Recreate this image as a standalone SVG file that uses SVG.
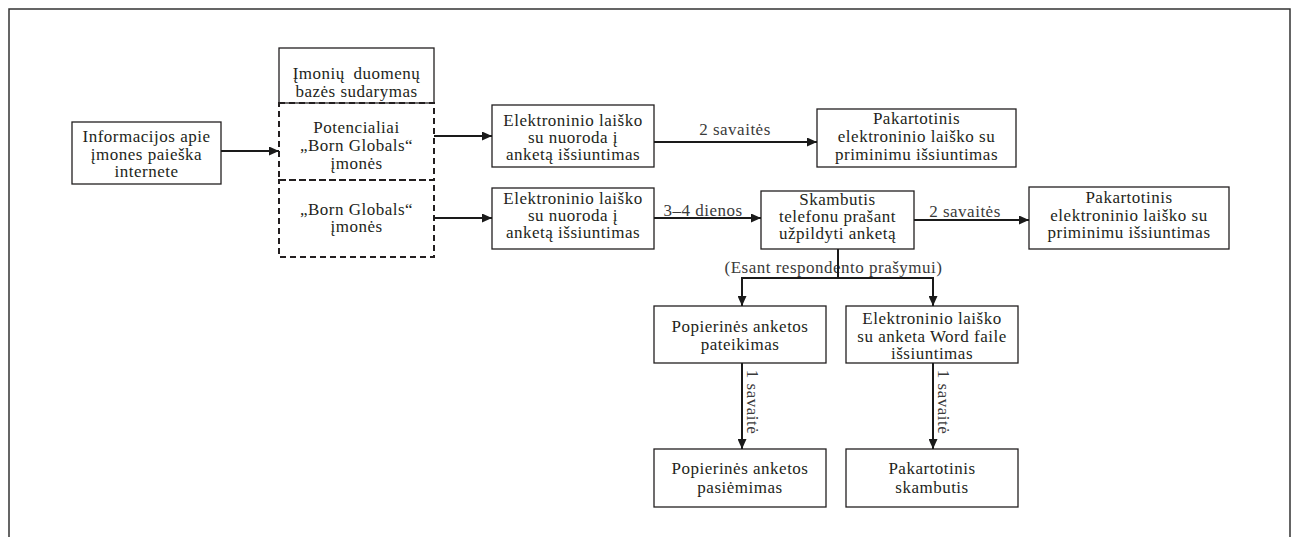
<svg xmlns="http://www.w3.org/2000/svg" width="1296" height="537" viewBox="0 0 1296 537">
<defs>
<marker id="ah" markerUnits="userSpaceOnUse" markerWidth="11" markerHeight="9" refX="10" refY="4.5" orient="auto">
<path d="M0,0 L10,4.5 L0,9 z" fill="#1a1a1a"/>
</marker>
<style>
.box{fill:#fff;stroke:#231f20;stroke-width:1.3}
.dash{fill:none;stroke:#231f20;stroke-width:2;stroke-dasharray:6,4}
.t{font-family:"Liberation Serif","Times New Roman",serif;font-size:17px;letter-spacing:0.5px;fill:#231f20;text-anchor:middle}
.lbl{font-family:"Liberation Serif","Times New Roman",serif;font-size:17px;letter-spacing:0.5px;fill:#3a3a3a;text-anchor:middle}
.c{fill:none;stroke:#1a1a1a;stroke-width:2}
.frame{fill:none;stroke:#333;stroke-width:1.5}
</style>
</defs>
<rect width="1296" height="537" fill="#fff"/>
<path class="frame" d="M9,537 L9,9 L1290,9 L1290,537"/>

<g id="n-info">
<rect class="box" x="72" y="122" width="149" height="62"/>
<text class="t" x="146.5" y="142">Informacijos apie</text>
<text class="t" x="146.5" y="160">įmones paieška</text>
<text class="t" x="146.5" y="177">internete</text>
</g>
<g id="n-db">
<rect class="box" x="279" y="48" width="155" height="55"/>
<text class="t" x="356.5" y="79" word-spacing="4">Įmonių duomenų</text>
<text class="t" x="356.5" y="97">bazės sudarymas</text>
</g>
<g id="n-potential">
<rect class="dash" x="279" y="103" width="155" height="77"/>
<text class="t" x="356.5" y="133">Potencialiai</text>
<text class="t" x="356.5" y="151">„Born Globals“</text>
<text class="t" x="356.5" y="169">įmonės</text>
</g>
<g id="n-born">
<rect class="dash" x="279" y="180" width="155" height="77"/>
<text class="t" x="356.5" y="215">„Born Globals“</text>
<text class="t" x="356.5" y="232">įmonės</text>
</g>
<g id="n-email1">
<rect class="box" x="492" y="105" width="162" height="62"/>
<text class="t" x="573" y="126">Elektroninio laiško</text>
<text class="t" x="573" y="143">su nuoroda į</text>
<text class="t" x="573" y="160">anketą išsiuntimas</text>
</g>
<g id="n-remind1">
<rect class="box" x="817" y="109" width="199" height="58"/>
<text class="t" x="916.5" y="124">Pakartotinis</text>
<text class="t" x="916.5" y="142">elektroninio laiško su</text>
<text class="t" x="916.5" y="160">priminimu išsiuntimas</text>
</g>
<g id="n-email2">
<rect class="box" x="492" y="188" width="162" height="61"/>
<text class="t" x="573" y="204">Elektroninio laiško</text>
<text class="t" x="573" y="221">su nuoroda į</text>
<text class="t" x="573" y="238">anketą išsiuntimas</text>
</g>
<g id="n-call">
<rect class="box" x="761" y="191" width="153" height="58"/>
<text class="t" x="837.5" y="205">Skambutis</text>
<text class="t" x="837.5" y="222">telefonu prašant</text>
<text class="t" x="837.5" y="239">užpildyti anketą</text>
</g>
<g id="n-remind2">
<rect class="box" x="1029" y="187" width="200" height="62"/>
<text class="t" x="1129" y="203">Pakartotinis</text>
<text class="t" x="1129" y="221">elektroninio laiško su</text>
<text class="t" x="1129" y="238">priminimu išsiuntimas</text>
</g>
<g id="n-paper">
<rect class="box" x="654" y="306" width="172" height="57"/>
<text class="t" x="740" y="332">Popierinės anketos</text>
<text class="t" x="740" y="350">pateikimas</text>
</g>
<g id="n-word">
<rect class="box" x="846" y="306" width="172" height="57"/>
<text class="t" x="932" y="324">Elektroninio laiško</text>
<text class="t" x="932" y="342">su anketa Word faile</text>
<text class="t" x="932" y="359">išsiuntimas</text>
</g>
<g id="n-pickup">
<rect class="box" x="654" y="449" width="172" height="58"/>
<text class="t" x="740" y="474">Popierinės anketos</text>
<text class="t" x="740" y="493">pasiėmimas</text>
</g>
<g id="n-recall">
<rect class="box" x="846" y="449" width="172" height="58"/>
<text class="t" x="932" y="474">Pakartotinis</text>
<text class="t" x="932" y="493">skambutis</text>
</g>

<g id="connectors">
<text class="lbl" x="833.5" y="273">(Esant respondento prašymui)</text>
<line class="c" x1="221" y1="151" x2="279" y2="151" marker-end="url(#ah)"/>
<line class="c" x1="434" y1="136" x2="492" y2="136" marker-end="url(#ah)"/>
<line class="c" x1="434" y1="218" x2="492" y2="218" marker-end="url(#ah)"/>
<line class="c" x1="654" y1="142" x2="817" y2="142" marker-end="url(#ah)"/>
<text class="lbl" x="735" y="135">2 savaitės</text>
<line class="c" x1="654" y1="218" x2="761" y2="218" marker-end="url(#ah)"/>
<text class="lbl" x="703" y="216">3–4 dienos</text>
<line class="c" x1="914" y1="220" x2="1029" y2="220" marker-end="url(#ah)"/>
<text class="lbl" x="965" y="217">2 savaitės</text>
<line class="c" x1="838" y1="249" x2="838" y2="278"/>
<line class="c" x1="742" y1="278" x2="933" y2="278"/>
<line class="c" x1="742" y1="277" x2="742" y2="306" marker-end="url(#ah)"/>
<line class="c" x1="933" y1="277" x2="933" y2="306" marker-end="url(#ah)"/>
<line class="c" x1="742" y1="363" x2="742" y2="449" marker-end="url(#ah)"/>
<line class="c" x1="933" y1="363" x2="933" y2="449" marker-end="url(#ah)"/>
<text class="lbl" transform="translate(747,402) rotate(90)">1 savaitė</text>
<text class="lbl" transform="translate(938,402) rotate(90)">1 savaitė</text>
</g>
</svg>
